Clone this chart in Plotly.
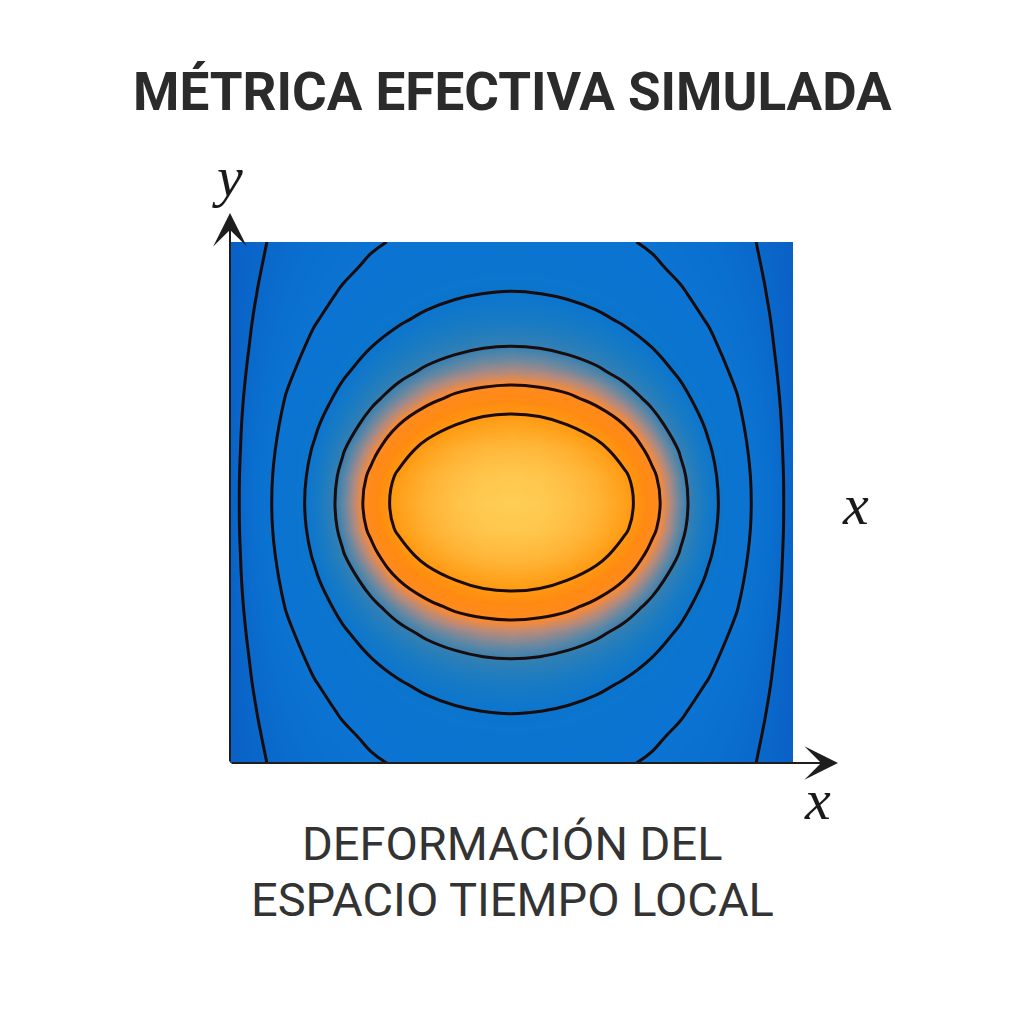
import numpy as np
import plotly.graph_objects as go

# ---- data (one quadrant, field is mirror-symmetric) ----
x_quarter = [0.0, 0.1, 0.2, 0.3, 0.4, 0.5, 0.6, 0.7, 0.8, 0.9, 1.0]
y_quarter = [0.0, 0.1, 0.2, 0.3, 0.4, 0.5, 0.6, 0.7, 0.8, 0.9, 1.0]
# rows: y = 0 ... 1 ; columns: x = 0 ... 1
z_quarter = [
    [1.100, 1.090, 1.059, 1.007, 0.935, 0.829, 0.726, 0.630, 0.544, 0.459, 0.371],
    [1.082, 1.072, 1.041, 0.989, 0.917, 0.815, 0.718, 0.624, 0.541, 0.457, 0.371],
    [1.029, 1.018, 0.987, 0.936, 0.859, 0.777, 0.694, 0.609, 0.532, 0.451, 0.370],
    [0.940, 0.929, 0.898, 0.851, 0.799, 0.729, 0.658, 0.587, 0.519, 0.443, 0.370],
    [0.839, 0.832, 0.814, 0.780, 0.734, 0.681, 0.622, 0.562, 0.504, 0.434, 0.369],
    [0.763, 0.757, 0.740, 0.715, 0.679, 0.635, 0.589, 0.537, 0.486, 0.425, 0.367],
    [0.700, 0.695, 0.681, 0.659, 0.630, 0.598, 0.557, 0.516, 0.468, 0.416, 0.366],
    [0.645, 0.641, 0.631, 0.615, 0.592, 0.562, 0.530, 0.495, 0.453, 0.409, 0.365],
    [0.604, 0.601, 0.592, 0.577, 0.558, 0.534, 0.508, 0.476, 0.440, 0.402, 0.364],
    [0.568, 0.565, 0.558, 0.546, 0.530, 0.511, 0.487, 0.460, 0.429, 0.396, 0.363],
    [0.538, 0.536, 0.530, 0.520, 0.507, 0.491, 0.470, 0.446, 0.420, 0.391, 0.362],
]
contour_levels = [0.4, 0.5, 0.6, 0.7, 0.8, 0.9]

title_text = "MÉTRICA EFECTIVA SIMULADA"
subtitle_lines = ["DEFORMACIÓN DEL", "ESPACIO TIEMPO LOCAL"]
x_label = "x"
y_label = "y"

# ---- mirror the quadrant to the full field ----
zq = np.array(z_quarter)
rows = np.vstack([zq[:0:-1], zq])
z_full = np.hstack([rows[:, :0:-1], rows])
xq = np.array(x_quarter)
yq = np.array(y_quarter)
x_full = np.concatenate([-xq[:0:-1], xq])
y_full = np.concatenate([-yq[:0:-1], yq])

zmin, zmax = 0.36, 1.10
def t(z):
    return (z - zmin) / (zmax - zmin)

colorscale = [
    [0.0, "#0A60C6"],
    [t(0.40), "#0A68CB"],
    [t(0.45), "#0A70CF"],
    [t(0.50), "#0B73D1"],
    [t(0.60), "#0B75CE"],
    [t(0.65), "#1A7BC2"],
    [t(0.70), "#3580B2"],
    [t(0.73), "#6A88A0"],
    [t(0.76), "#B08A80"],
    [t(0.79), "#F08A40"],
    [t(0.80), "#FF8A20"],
    [t(0.85), "#FF8A12"],
    [t(0.90), "#FF9810"],
    [t(1.00), "#FFB335"],
    [1.0, "#FFCD55"],
]

fig = go.Figure()
fig.add_trace(go.Contour(
    x=x_full, y=y_full, z=z_full,
    zmin=zmin, zmax=zmax,
    colorscale=colorscale, showscale=False,
    contours=dict(start=contour_levels[0], end=contour_levels[-1] + 0.01,
                  size=0.1, coloring="heatmap", showlines=True),
    line=dict(color="#1a0c0c", width=3, smoothing=1.3),
    hoverinfo="skip",
))

W = H = 1024
px0, px1 = 230, 793
py_top, py_bot = 242, 763
fig.update_layout(
    width=W, height=H,
    margin=dict(l=0, r=0, t=0, b=0),
    paper_bgcolor="white", plot_bgcolor="white",
    showlegend=False,
    xaxis=dict(domain=[px0 / W, px1 / W], range=[-1, 1], visible=False),
    yaxis=dict(domain=[1 - py_bot / H, 1 - py_top / H], range=[-1, 1], visible=False),
)

ax_color = "#1e1e1e"
# axis arrows (paper anchored, pixel offsets for the tails)
fig.add_annotation(x=px0 / W, y=1 - 213 / H, xref="paper", yref="paper",
                   ax=0, ay=py_bot - 213, axref="pixel", ayref="pixel",
                   text="", showarrow=True, arrowhead=3, arrowsize=2.8, arrowwidth=2,
                   arrowcolor=ax_color)
fig.add_annotation(x=838 / W, y=1 - py_bot / H, xref="paper", yref="paper",
                   ax=-(838 - px0), ay=0, axref="pixel", ayref="pixel",
                   text="", showarrow=True, arrowhead=3, arrowsize=2.8, arrowwidth=2,
                   arrowcolor=ax_color)

serif = dict(family="Liberation Serif, DejaVu Serif, serif", size=58, color="#1a1a1a")
fig.add_annotation(x=227 / W, y=1 - 176 / H, xref="paper", yref="paper", text="<i>" + y_label + "</i>",
                   showarrow=False, font=serif, xanchor="center", yanchor="middle")
fig.add_annotation(x=817 / W, y=1 - 799 / H, xref="paper", yref="paper", text="<i>" + x_label + "</i>",
                   showarrow=False, font=serif, xanchor="center", yanchor="middle")
fig.add_annotation(x=855 / W, y=1 - 504 / H, xref="paper", yref="paper", text="<i>" + x_label + "</i>",
                   showarrow=False, font=serif, xanchor="center", yanchor="middle")

fig.add_annotation(x=0.5, y=1 - 92 / H, xref="paper", yref="paper", text="<b>" + title_text + "</b>",
                   showarrow=False, xanchor="center", yanchor="middle",
                   font=dict(family="Roboto, Noto Sans, sans-serif", size=53, color="#2b2b2b"))
for line_text, yc in zip(subtitle_lines, [843, 899]):
    fig.add_annotation(x=0.5, y=1 - yc / H, xref="paper", yref="paper", text=line_text,
                       showarrow=False, xanchor="center", yanchor="middle",
                       font=dict(family="Roboto, Noto Sans, sans-serif", size=47, color="#333333"))

fig.write_html("out.html", config={"displayModeBar": False},
               post_script="document.body.style.margin='0';")
